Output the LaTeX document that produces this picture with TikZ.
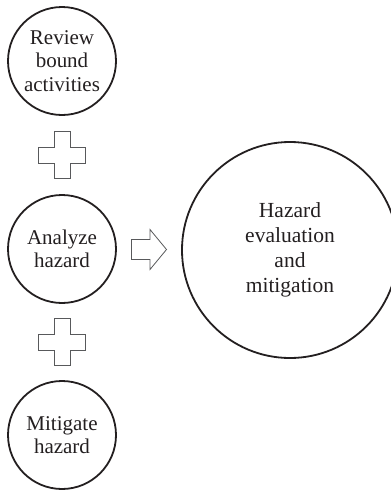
\documentclass[tikz,border=0pt]{standalone}
\usepackage{fontspec}
\setmainfont{Liberation Serif}
\usetikzlibrary{calc}
\definecolor{ink}{HTML}{231F20}
\definecolor{outlinegray}{HTML}{58595B}
\tikzset{
  stage/.style={circle, draw=ink, line width=1.8pt, minimum size=108pt,
    inner sep=0pt, align=center, text=ink,
    font=\fontsize{21}{23.5}\selectfont},
  bigstage/.style={stage, minimum size=216pt,
    font=\fontsize{21.5}{25}\selectfont},
  outline/.style={draw=outlinegray, line width=0.8pt, line join=miter, fill=white},
  plussign/.pic={
    \path[outline] (-8,-23.5) -- (8,-23.5) -- (8,-8) -- (23.5,-8) -- (23.5,8)
      -- (8,8) -- (8,23.5) -- (-8,23.5) -- (-8,8) -- (-23.5,8) -- (-23.5,-8)
      -- (-8,-8) -- cycle;
  },
  blockarrow/.pic={
    \path[outline] (-17.5,-10) -- (1,-10) -- (1,-20) -- (17.5,0) -- (1,20)
      -- (1,10) -- (-17.5,10) -- cycle;
  }
}
\begin{document}
\begin{tikzpicture}[x=1pt, y=-1pt]
  \useasboundingbox (0,0) rectangle (391,491);

  % left column of steps
  \node[stage] (review)   at (62,61)  {Review\\bound\\activities};
  \node[stage] (analyze)  at (62,249) {Analyze\\hazard};
  \node[stage] (mitigate) at (62,435) {Mitigate\\hazard};

  % overall outcome
  \node[bigstage] (outcome) at (290,250) {Hazard\\evaluation\\and\\mitigation};

  % plus signs between the steps, arrow towards the outcome
  \pic at ($(review)!0.5!(analyze)$) {plussign};
  \pic at ($(analyze)!0.5!(mitigate)$) {plussign};
  \pic at ($(analyze.east)!0.5!(outcome.west)$) {blockarrow};
\end{tikzpicture}
\end{document}
